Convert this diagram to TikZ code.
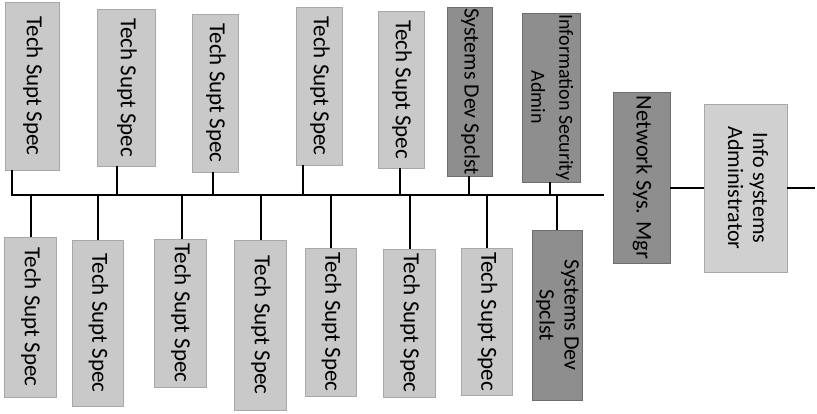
\documentclass[tikz,border=0pt]{standalone}
\usepackage{fontspec}
\setmainfont{Carlito}
\usepackage{graphicx}
\definecolor{lightfill}{HTML}{C9C9C9}
\definecolor{lightedge}{HTML}{A8A8A8}
\definecolor{darkfill}{HTML}{8E8E8E}
\definecolor{darkedge}{HTML}{6E6E6E}
\definecolor{paleinfo}{HTML}{D0D0D0}
\newcommand{\vtext}[1]{\rotatebox{-90}{\begin{tabular}{@{}c@{}}#1\end{tabular}}}
\tikzset{
  box/.style={rectangle, fill=lightfill, draw=lightedge, line width=0.6pt,
    inner sep=0pt, font=\fontsize{23}{26}\selectfont, text=black},
  darkbox/.style={box, fill=darkfill, draw=darkedge},
  wire/.style={line width=1.8pt, black},
  thinwire/.style={line width=1.5pt, black}
}
\begin{document}
\begin{tikzpicture}[x=1pt,y=-1pt]
\useasboundingbox (0,0) rectangle (817,414);
% top row
\node[box, minimum width=54pt, minimum height=168pt] (t1) at (32,86) {\vtext{Tech Supt Spec}};
\node[box, minimum width=58pt, minimum height=157pt] (t2) at (126,87.5) {\vtext{Tech Supt Spec}};
\node[box, minimum width=46pt, minimum height=158pt] (t3) at (215,93) {\vtext{Tech Supt Spec}};
\node[box, minimum width=46pt, minimum height=158pt] (t4) at (319,86) {\vtext{Tech Supt Spec}};
\node[box, minimum width=46pt, minimum height=157pt] (t5) at (401,89.5) {\vtext{Tech Supt Spec}};
\node[darkbox, minimum width=45pt, minimum height=169pt, font=\fontsize{21.8}{25}\selectfont] (t6) at (469.5,91.5) {\vtext{Systems Dev Spclst}};
\node[darkbox, minimum width=58pt, minimum height=169pt, font=\fontsize{20}{28}\selectfont] (t7) at (551,97.5) {\vtext{Information Security\\Admin}};
% bottom row
\node[box, minimum width=52pt, minimum height=160pt] (b1) at (30,317) {\vtext{Tech Supt Spec}};
\node[box, minimum width=51pt, minimum height=166pt] (b2) at (97.5,323) {\vtext{Tech Supt Spec}};
\node[box, minimum width=52pt, minimum height=148pt] (b3) at (180,313) {\vtext{Tech Supt Spec}};
\node[box, minimum width=52pt, minimum height=170pt] (b4) at (260,325) {\vtext{Tech Supt Spec}};
\node[box, minimum width=51pt, minimum height=148pt] (b5) at (330.5,322) {\vtext{Tech Supt Spec}};
\node[box, minimum width=52pt, minimum height=148pt] (b6) at (409,323) {\vtext{Tech Supt Spec}};
\node[box, minimum width=51pt, minimum height=147pt] (b7) at (486.5,321.5) {\vtext{Tech Supt Spec}};
\node[darkbox, minimum width=48pt, minimum height=170pt, font=\fontsize{22}{25}\selectfont] (b8) at (557,315) {\vtext{Systems Dev\\Spclst}};
% right boxes
\node[darkbox, minimum width=57pt, minimum height=171pt, font=\fontsize{22.5}{25}\selectfont] (n) at (641.5,177.5) {\vtext{Network Sys. Mgr}};
\node[box, fill=paleinfo, minimum width=83pt, minimum height=168pt, font=\fontsize{22}{25}\selectfont] (i) at (745.5,188) {\vtext{Info systems\\Administrator}};
% bus
\coordinate (busL) at (12,195);
\coordinate (busR) at (604,195);
\draw[wire] (t1.south -| busL) -- (busL) -- (busR);
\foreach \nm/\xx in {t2/117, t3/213, t4/303, t5/400, t6/469, t7/550} {
  \coordinate (u-\nm) at (\xx,195);
  \draw[wire] (\nm.south -| u-\nm) -- (u-\nm);
}
\foreach \nm/\xx in {b1/31, b2/98, b3/182, b4/261, b5/331, b6/410, b7/487, b8/557} {
  \coordinate (d-\nm) at (\xx,195);
  \draw[wire] (d-\nm) -- (d-\nm |- \nm.north);
}
% right connectors
\coordinate (rend) at (815,188);
\draw[thinwire] (n.east |- i.west) -- (i.west);
\draw[thinwire] (i.east) -- (rend);
\end{tikzpicture}
\end{document}
